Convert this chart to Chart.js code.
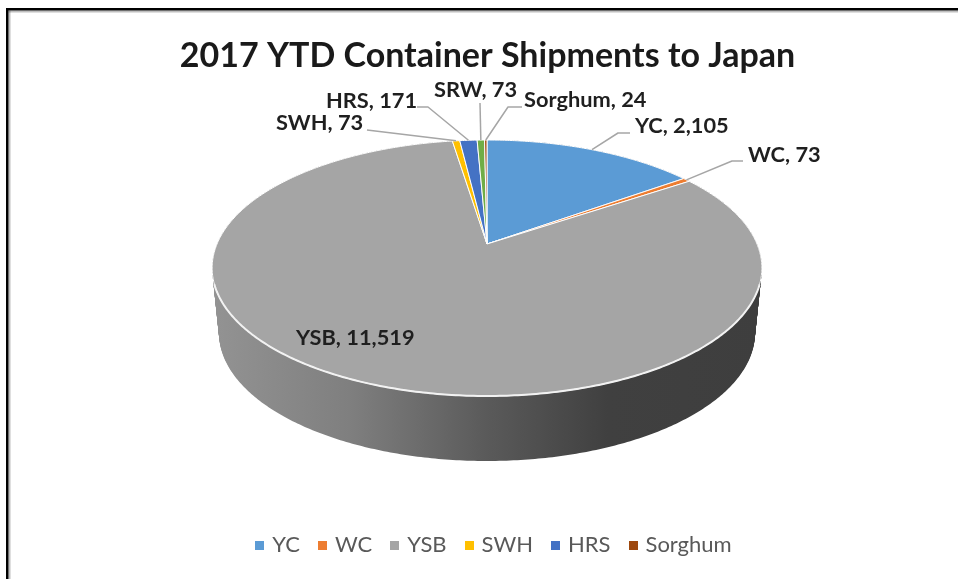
<!DOCTYPE html>
<html><head><meta charset="utf-8">
<script src="https://cdn.jsdelivr.net/npm/chart.js@4"></script>
<style>html,body{margin:0;padding:0;background:#fff;overflow:hidden}
#wrap{width:958px;height:579px;filter:blur(0.75px)}canvas{display:block}</style>
</head><body><div id="wrap"><canvas id="c" width="958" height="579"></canvas></div>
<script>
const categories = ['YC','WC','YSB','SWH','HRS','SRW','Sorghum'];
const shipments = [2105,73,11519,73,171,73,24];
const colors = ['#5B9BD5','#ED7D31','#A5A5A5','#FFC000','#4472C4','#70AD47','#9E480E'];
const titleText = '2017 YTD Container Shipments to Japan';

// Perspective of the tilted disc
const view = {cx:487, cy:244, R:270, A:123.5, p:0.1875, depth:65, baseScale:0.975};
// Label anchors (left x, middle y) and leader elbows
const labelPlace = {
  YC:{x:635,y:126,elbow:[[630,133],[618,133]]},
  WC:{x:748,y:155,elbow:[[743,161],[732,161]]},
  YSB:{x:296,y:338,elbow:null},
  SWH:{x:276,y:123,elbow:[[367,130]]},
  HRS:{x:326,y:101,elbow:[[417,107],[428,107]]},
  SRW:{x:434,y:90,elbow:[[480,103]]},
  Sorghum:{x:524,y:100,elbow:[[522,107],[508,107]]}
};
function proj(a, t){
  const x=Math.cos(a), up=-Math.sin(a), s=1/(1+view.p*up);
  const k=1+(view.baseScale-1)*t;
  return [view.cx+view.R*k*x*s, view.cy-view.A*up*s+view.depth*t];
}
function swatch(color){
  const c=document.createElement('canvas');c.width=9;c.height=9;
  const x=c.getContext('2d');x.fillStyle=color;x.fillRect(0,0,9,9);return c;
}
const disc3d = {
  id:'disc3d',
  afterLayout(chart){
    chart.titleBlock.left+=8.5;chart.titleBlock.right+=8.5;
    chart.legend.left+=16;chart.legend.right+=16;
  },
  beforeDatasetsDraw(chart){
    const ctx=chart.ctx, arcs=chart.getDatasetMeta(0).data;
    const N=a=>Math.max(2,Math.ceil((a.endAngle-a.startAngle)*90));
    // side wall: the slices' outlines swept down the depth of the disc
    const g=ctx.createLinearGradient(212,0,762,0);
    g.addColorStop(0,'#939393');g.addColorStop(0.25,'#7f7f7f');g.addColorStop(0.5,'#5a5a5a');
    g.addColorStop(0.72,'#404040');g.addColorStop(1,'#3e3e3e');
    ctx.fillStyle=g;
    for(let k=view.depth;k>=0;k--){
      const t=k/view.depth;
      arcs.forEach(a=>{
        const n=N(a),d=(a.endAngle-a.startAngle)/n;
        ctx.beginPath();
        const o=[view.cx,view.cy+view.depth*t];ctx.moveTo(o[0],o[1]);
        for(let i=0;i<=n;i++){const q=proj(a.startAngle+i*d,t);ctx.lineTo(q[0],q[1]);}
        ctx.closePath();ctx.fill();
      });
    }
    // top face
    arcs.forEach((a,idx)=>{
      const n=N(a),d=(a.endAngle-a.startAngle)/n;
      ctx.beginPath();ctx.moveTo(view.cx,view.cy);
      for(let i=0;i<=n;i++){const q=proj(a.startAngle+i*d,0);ctx.lineTo(q[0],q[1]);}
      ctx.closePath();ctx.fillStyle=colors[idx];ctx.fill();
      ctx.strokeStyle='#ffffff';ctx.lineWidth=1;ctx.lineJoin='round';ctx.stroke();
    });
    // bright rim along the front edge
    arcs.forEach(a=>{
      const n=N(a),d=(a.endAngle-a.startAngle)/n;
      ctx.beginPath();let on=false;
      for(let i=0;i<=n;i++){
        const b=a.startAngle+i*d;
        if(Math.sin(b)>0.3){const q=proj(b,0);on?ctx.lineTo(q[0],q[1]):ctx.moveTo(q[0],q[1]);on=true;}
      }
      ctx.strokeStyle='#f2f2f2';ctx.lineWidth=2;ctx.stroke();
    });
    // leaders and labels
    ctx.font='bold 21.8px Lato';ctx.textAlign='left';ctx.textBaseline='middle';
    arcs.forEach((a,idx)=>{
      const name=categories[idx],pl=labelPlace[name];
      if(pl.elbow){
        const e=proj((a.startAngle+a.endAngle)/2,0);
        ctx.beginPath();
        pl.elbow.forEach((q,i)=>i?ctx.lineTo(q[0],q[1]):ctx.moveTo(q[0],q[1]));
        ctx.lineTo(e[0],e[1]);
        ctx.strokeStyle='#a6a6a6';ctx.lineWidth=1.5;ctx.stroke();
      }
      ctx.fillStyle='#1f1f1f';
      ctx.fillText(name+', '+shipments[idx].toLocaleString('en-US'),pl.x,pl.y);
    });
    return false;
  },
  afterDraw(chart){
    const ctx=chart.ctx;ctx.save();
    ctx.fillStyle='#000';ctx.fillRect(6,8,952,2.5);ctx.fillRect(6,8,2.5,571);
    ctx.fillStyle='rgba(0,0,0,0.25)';ctx.fillRect(8.5,10.5,949.5,2);ctx.fillRect(8.5,10.5,2,568.5);
    ctx.restore();
  }
};
new Chart(document.getElementById('c'),{
  type:'pie',
  data:{labels:categories,datasets:[{data:shipments,backgroundColor:colors,borderColor:'#fff',borderWidth:1}]},
  plugins:[disc3d],
  options:{
    responsive:false,animation:false,events:[],
    layout:{padding:{top:36,bottom:13}},
    plugins:{
      tooltip:{enabled:false},
      title:{display:true,text:titleText,color:'#1a1a1a',font:{family:'Lato',size:34,weight:'bold'},padding:{top:0,bottom:0}},
      legend:{position:'bottom',
        labels:{font:{family:'Lato',size:22},color:'#595959',usePointStyle:true,pointStyleWidth:3,boxHeight:9,padding:21,
          generateLabels(chart){
            const base=Chart.overrides.pie.plugins.legend.labels.generateLabels(chart);
            return base.filter(it=>it.text!=='SRW').map(it=>Object.assign(it,{pointStyle:swatch(colors[it.index])}));
          }}}
    }
  }
});
</script></body></html>
